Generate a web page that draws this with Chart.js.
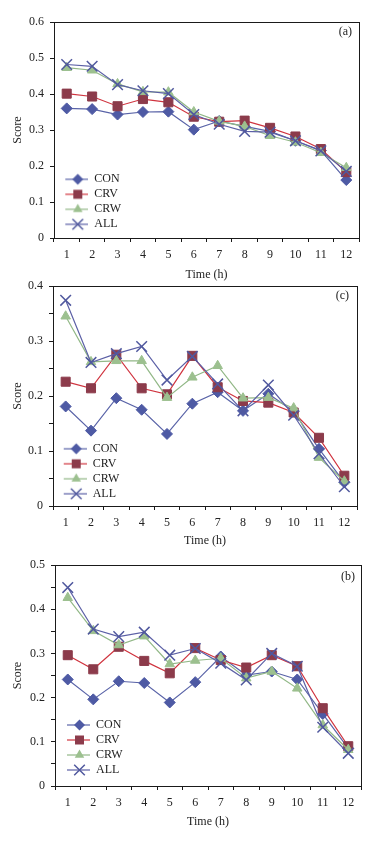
<!DOCTYPE html>
<html><head><meta charset="utf-8">
<script src="https://cdn.jsdelivr.net/npm/chart.js@4.4.1/dist/chart.umd.min.js"></script>
<style>
html,body{margin:0;padding:0;background:#fff;}
body{width:376px;height:842px;position:relative;overflow:hidden;}
canvas{position:absolute;left:0;}
</style></head><body>
<canvas id="chartA" width="376" height="284" style="top:0px"></canvas>
<canvas id="chartC" width="376" height="290" style="top:264px"></canvas>
<canvas id="chartB" width="376" height="298" style="top:544px"></canvas>
<script>
// ---- data ----
const hours = ['1','2','3','4','5','6','7','8','9','10','11','12'];
const seriesNames = ['CON','CRV','CRW','ALL'];
const panelLetters = ['(a)','(c)','(b)'];
const xTitle = 'Time (h)';
const yTitle = 'Score';

// panel (a)
const aCON = [0.360,0.358,0.343,0.350,0.351,0.301,0.325,0.310,0.296,0.270,0.243,0.161];
const aCRV = [0.401,0.393,0.366,0.386,0.377,0.337,0.323,0.326,0.306,0.282,0.247,0.183];
const aCRW = [0.473,0.466,0.428,0.406,0.405,0.350,0.324,0.310,0.284,0.266,0.237,0.195];
const aALL = [0.482,0.477,0.426,0.409,0.401,0.343,0.316,0.296,0.294,0.270,0.242,0.185];
// panel (c)
const cCON = [0.181,0.137,0.196,0.175,0.131,0.186,0.207,0.173,0.204,0.172,0.104,0.043];
const cCRV = [0.226,0.214,0.275,0.214,0.203,0.273,0.216,0.191,0.188,0.170,0.124,0.055];
const cCRW = [0.345,0.262,0.264,0.264,0.197,0.234,0.255,0.196,0.197,0.178,0.088,0.045];
const cALL = [0.374,0.261,0.277,0.290,0.229,0.272,0.222,0.173,0.220,0.165,0.095,0.035];
// panel (b)
const bCON = [0.241,0.196,0.237,0.233,0.189,0.235,0.293,0.251,0.259,0.241,0.163,0.085];
const bCRV = [0.296,0.264,0.315,0.283,0.255,0.312,0.285,0.268,0.296,0.271,0.176,0.090];
const bCRW = [0.426,0.351,0.319,0.339,0.276,0.284,0.289,0.244,0.259,0.221,0.138,0.082];
const bALL = [0.449,0.355,0.338,0.348,0.296,0.311,0.278,0.240,0.300,0.271,0.133,0.074];

// ---- styles ----
const FONT = {family:'"Liberation Serif", "Times New Roman", serif', size:12};
const TXT = '#222';
const AX = '#1a1a1a';
const styles = [
  {borderColor:'#5A64A8', pointBackgroundColor:'#4E5AA4', pointBorderColor:'#4E5AA4', pointStyle:'rectRot', pointRadius:5.5, pointBorderWidth:1},
  {borderColor:'#D0343F', pointBackgroundColor:'#8C3B4B', pointBorderColor:'#8C3B4B', pointStyle:'rect', pointRadius:6.4, pointBorderWidth:1},
  {borderColor:'#92B887', pointBackgroundColor:'#9CC08F', pointBorderColor:'#9CC08F', pointStyle:'triangle', pointRadius:5.5, pointBorderWidth:1},
  {borderColor:'#5C60A6', pointBackgroundColor:'#50589E', pointBorderColor:'#50589E', pointStyle:'crossRot', pointRadius:7.5, pointBorderWidth:1.5}
];

// legend glyphs: short line with marker in the middle
function makeGlyph(st) {
  const c = document.createElement('canvas');
  c.width = 33; c.height = 16;
  const g = c.getContext('2d');
  const cx = 22.5, cy = 8;
  g.strokeStyle = st.borderColor; g.lineWidth = 1.2;
  g.beginPath(); g.moveTo(10, cy); g.lineTo(33, cy); g.stroke();
  g.fillStyle = st.pointBackgroundColor; g.strokeStyle = st.pointBorderColor;
  g.beginPath();
  if (st.pointStyle === 'rectRot') {
    const r = 5.5;
    g.moveTo(cx, cy - r); g.lineTo(cx + r, cy); g.lineTo(cx, cy + r); g.lineTo(cx - r, cy); g.closePath(); g.fill();
  } else if (st.pointStyle === 'rect') {
    g.rect(cx - 4.5, cy - 4.5, 9, 9); g.fill();
  } else if (st.pointStyle === 'triangle') {
    const r = 5.5;
    g.moveTo(cx, cy - r); g.lineTo(cx + r * 0.866, cy + r / 2); g.lineTo(cx - r * 0.866, cy + r / 2); g.closePath(); g.fill();
  } else {
    const d = 5.3; g.lineWidth = 1.5;
    g.moveTo(cx - d, cy - d); g.lineTo(cx + d, cy + d); g.moveTo(cx + d, cy - d); g.lineTo(cx - d, cy + d); g.stroke();
  }
  return c;
}
const glyphs = styles.map(makeGlyph);

const decor = {
  id: 'panelDecor',
  afterLayout(chart, args, opts) {
    const ca = chart.chartArea, lg = chart.legend;
    if (lg) {
      lg.left = ca.left + opts.legendDx; lg.right = ca.right;
      lg.top = ca.top; lg.bottom = ca.bottom - opts.legendDy;
    }
  },
  beforeDatasetsDraw(chart) {
    const {ctx, chartArea: ca} = chart;
    ctx.save();
    ctx.strokeStyle = AX; ctx.lineWidth = 1;
    ctx.strokeRect(Math.round(ca.left) + 0.5, Math.round(ca.top) + 0.5, Math.round(ca.right - ca.left), Math.round(ca.bottom - ca.top));
    ctx.restore();
  },
  afterDraw(chart, args, opts) {
    const {ctx, chartArea: ca} = chart;
    ctx.save();
    ctx.font = '12px "Liberation Serif", serif';
    ctx.fillStyle = TXT; ctx.textAlign = 'right'; ctx.textBaseline = 'middle';
    ctx.fillText(opts.letter, ca.right - opts.letterDx, ca.top + opts.letterDy);
    ctx.restore();
  }
};

function yLabel(v) {
  const k = Math.round(v * 100);
  if (k % 10 !== 0) return '';
  return k === 0 ? '0' : (k / 100).toFixed(1);
}

function build(id, p) {
  return new Chart(document.getElementById(id), {
    type: 'line',
    data: {
      labels: hours,
      datasets: p.values.map((vals, i) => Object.assign({
        label: seriesNames[i], data: vals, order: 3 - i, borderWidth: 1.2, tension: 0, fill: false
      }, styles[i]))
    },
    options: {
      responsive: false, animation: false, devicePixelRatio: 1,
      layout: {padding: {left: 0, top: p.top, right: p.right, bottom: 0}},
      plugins: {
        tooltip: {enabled: false},
        legend: {
          position: 'chartArea', align: 'end',
          labels: {
            usePointStyle: true, pointStyleWidth: 33, padding: 3, font: FONT, color: TXT,
            generateLabels: (chart) => {
              const items = Chart.defaults.plugins.legend.labels.generateLabels(chart);
              items.forEach(it => { it.pointStyle = glyphs[it.datasetIndex]; });
              return items;
            },
            sort: (a, b) => a.datasetIndex - b.datasetIndex
          }
        },
        panelDecor: {letter: p.letter, letterDx: p.letterDx, letterDy: p.letterDy, legendDx: p.legendDx, legendDy: p.legendDy}
      },
      scales: {
        x: {
          type: 'category', offset: true,
          grid: {offset: true, drawOnChartArea: false, tickLength: 4, color: AX},
          border: {color: AX},
          ticks: {font: FONT, color: TXT, padding: 6, maxRotation: 0, autoSkip: false},
          title: {display: true, text: xTitle, font: FONT, color: TXT, padding: {top: 0, bottom: p.xTitlePad}},
          afterFit: s => { s.height = p.xh; }
        },
        y: {
          min: 0, max: p.max,
          ticks: {stepSize: p.step, padding: 6, font: FONT, color: TXT, callback: yLabel},
          grid: {drawOnChartArea: false, tickLength: 4, color: AX},
          border: {color: AX},
          title: {display: true, text: yTitle, font: FONT, color: TXT, padding: {top: 11, bottom: 0}},
          afterFit: s => { s.width = p.yw; }
        }
      }
    },
    plugins: [decor]
  });
}

build('chartA', {values: [aCON, aCRV, aCRW, aALL], max: 0.6, step: 0.1, top: 22, right: 17, yw: 54, xh: 46, xTitlePad: 2,
  letter: panelLetters[0], letterDx: 7, letterDy: 10, legendDx: -1.7, legendDy: 4.7});
build('chartC', {values: [cCON, cCRV, cCRW, cALL], max: 0.4, step: 0.05, top: 22, right: 19, yw: 53, xh: 48, xTitlePad: 5.5,
  letter: panelLetters[1], letterDx: 8, letterDy: 10, legendDx: -2.3, legendDy: 3.2});
build('chartB', {values: [bCON, bCRV, bCRW, bALL], max: 0.5, step: 0.05, top: 21, right: 15, yw: 55, xh: 56, xTitlePad: 13,
  letter: panelLetters[2], letterDx: 6, letterDy: 12, legendDx: -1, legendDy: 7});
</script>
</body></html>
